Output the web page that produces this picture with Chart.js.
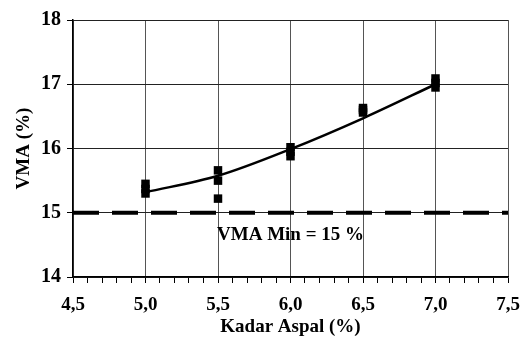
<!DOCTYPE html>
<html>
<head>
<meta charset="utf-8">
<script src="https://cdn.jsdelivr.net/npm/chart.js@4.4.1/dist/chart.umd.min.js"></script>
<style>
  html, body { margin: 0; padding: 0; background: #fff; }
  #wrap { width: 526px; height: 338px; }
</style>
</head>
<body>
<div id="wrap"><canvas id="vmaChart" width="526" height="338"></canvas></div>
<script>
// hasil pengujian (kadar aspal vs VMA)
const kadarAspal = [5.0, 5.0, 5.0, 5.5, 5.5, 5.5, 6.0, 6.0, 6.0, 6.5, 6.5, 6.5, 7.0, 7.0, 7.0];
const nilaiVMA = [15.45, 15.37, 15.3, 15.66, 15.5, 15.22, 16.02, 15.95, 15.88, 16.63, 16.6, 16.56, 17.09, 17.02, 16.95];

// garis trend
const trendX = [5.0, 5.5, 6.0, 6.5, 7.0];
const trendY = [15.32, 15.575, 15.99, 16.47, 17.0];

// batas minimum VMA
const batasX = [4.5, 7.5];
const batasY = [15, 15];
const labelBatas = "VMA Min = 15 %";

const fontFamily = "'Liberation Serif', 'Times New Roman', serif";

function comma(v) {
  return v.toFixed(1).replace(".", ",");
}

// tulis label batas minimum di koordinat data
const labelPlugin = {
  id: "labelBatas",
  afterDatasetsDraw(chart) {
    const ctx = chart.ctx;
    const x = chart.scales.x.getPixelForValue(6.0);
    const y = chart.scales.y.getPixelForValue(14.65);
    ctx.save();
    ctx.font = "bold 19px " + fontFamily;
    ctx.fillStyle = "#000";
    ctx.textAlign = "center";
    ctx.textBaseline = "middle";
    ctx.fillText(labelBatas, x, y);
    ctx.restore();
  },
};

const ctx = document.getElementById("vmaChart").getContext("2d");
new Chart(ctx, {
  type: "scatter",
  data: {
    datasets: [
      {
        label: "VMA",
        data: kadarAspal.map((x, i) => ({ x, y: nilaiVMA[i] })),
        backgroundColor: "#000",
        borderColor: "#000",
        pointStyle: "rect",
        pointRadius: 6,
        borderWidth: 0,
        order: 1,
      },
      {
        label: "Trend",
        type: "line",
        data: trendX.map((x, i) => ({ x, y: trendY[i] })),
        borderColor: "#000",
        borderWidth: 2.5,
        pointRadius: 0,
        cubicInterpolationMode: "monotone",
        fill: false,
        order: 2,
      },
      {
        label: "Batas",
        type: "line",
        data: batasX.map((x, i) => ({ x, y: batasY[i] })),
        borderColor: "#000",
        borderWidth: 4,
        borderDash: [26, 13],
        pointRadius: 0,
        fill: false,
        order: 3,
      },
    ],
  },
  options: {
    responsive: false,
    animation: false,
    layout: { padding: { top: 20, right: 18, left: 0, bottom: 0 } },
    plugins: {
      legend: { display: false },
      tooltip: { enabled: false },
    },
    scales: {
      x: {
        type: "linear",
        min: 4.5,
        max: 7.5,
        afterFit: (s) => {
          s.height = 61;
          s.paddingLeft = 0;
          s.paddingRight = 0;
        },
        border: { color: "#000", width: 1.5 },
        grid: {
          color: (c) => (Math.round(c.tick.value * 10) % 5 === 0 ? "#555" : "rgba(0,0,0,0)"),
          tickColor: "#000",
          tickLength: 6,
          lineWidth: 1,
        },
        ticks: {
          stepSize: 0.1,
          autoSkip: false,
          maxTicksLimit: 100,
          maxRotation: 0,
          padding: 11,
          color: "#000",
          font: { family: fontFamily, size: 19, weight: "bold" },
          callback: (v) => (Math.round(v * 10) % 5 === 0 ? comma(v) : ""),
        },
        title: {
          display: true,
          text: "Kadar Aspal (%)",
          color: "#000",
          padding: { top: 0, bottom: 0 },
          font: { family: fontFamily, size: 19, weight: "bold" },
        },
      },
      y: {
        min: 14,
        max: 18,
        afterFit: (s) => { s.width = 73; },
        border: { color: "#000", width: 1.5 },
        grid: {
          color: "#222",
          tickColor: "#000",
          tickLength: 6,
          lineWidth: 1,
        },
        ticks: {
          stepSize: 1,
          padding: 6,
          color: "#000",
          font: { family: fontFamily, size: 20, weight: "bold" },
        },
        title: {
          display: true,
          text: "VMA (%)",
          color: "#000",
          padding: { top: 13, bottom: 0 },
          font: { family: fontFamily, size: 19, weight: "bold" },
        },
      },
    },
  },
  plugins: [labelPlugin],
});
</script>
</body>
</html>
